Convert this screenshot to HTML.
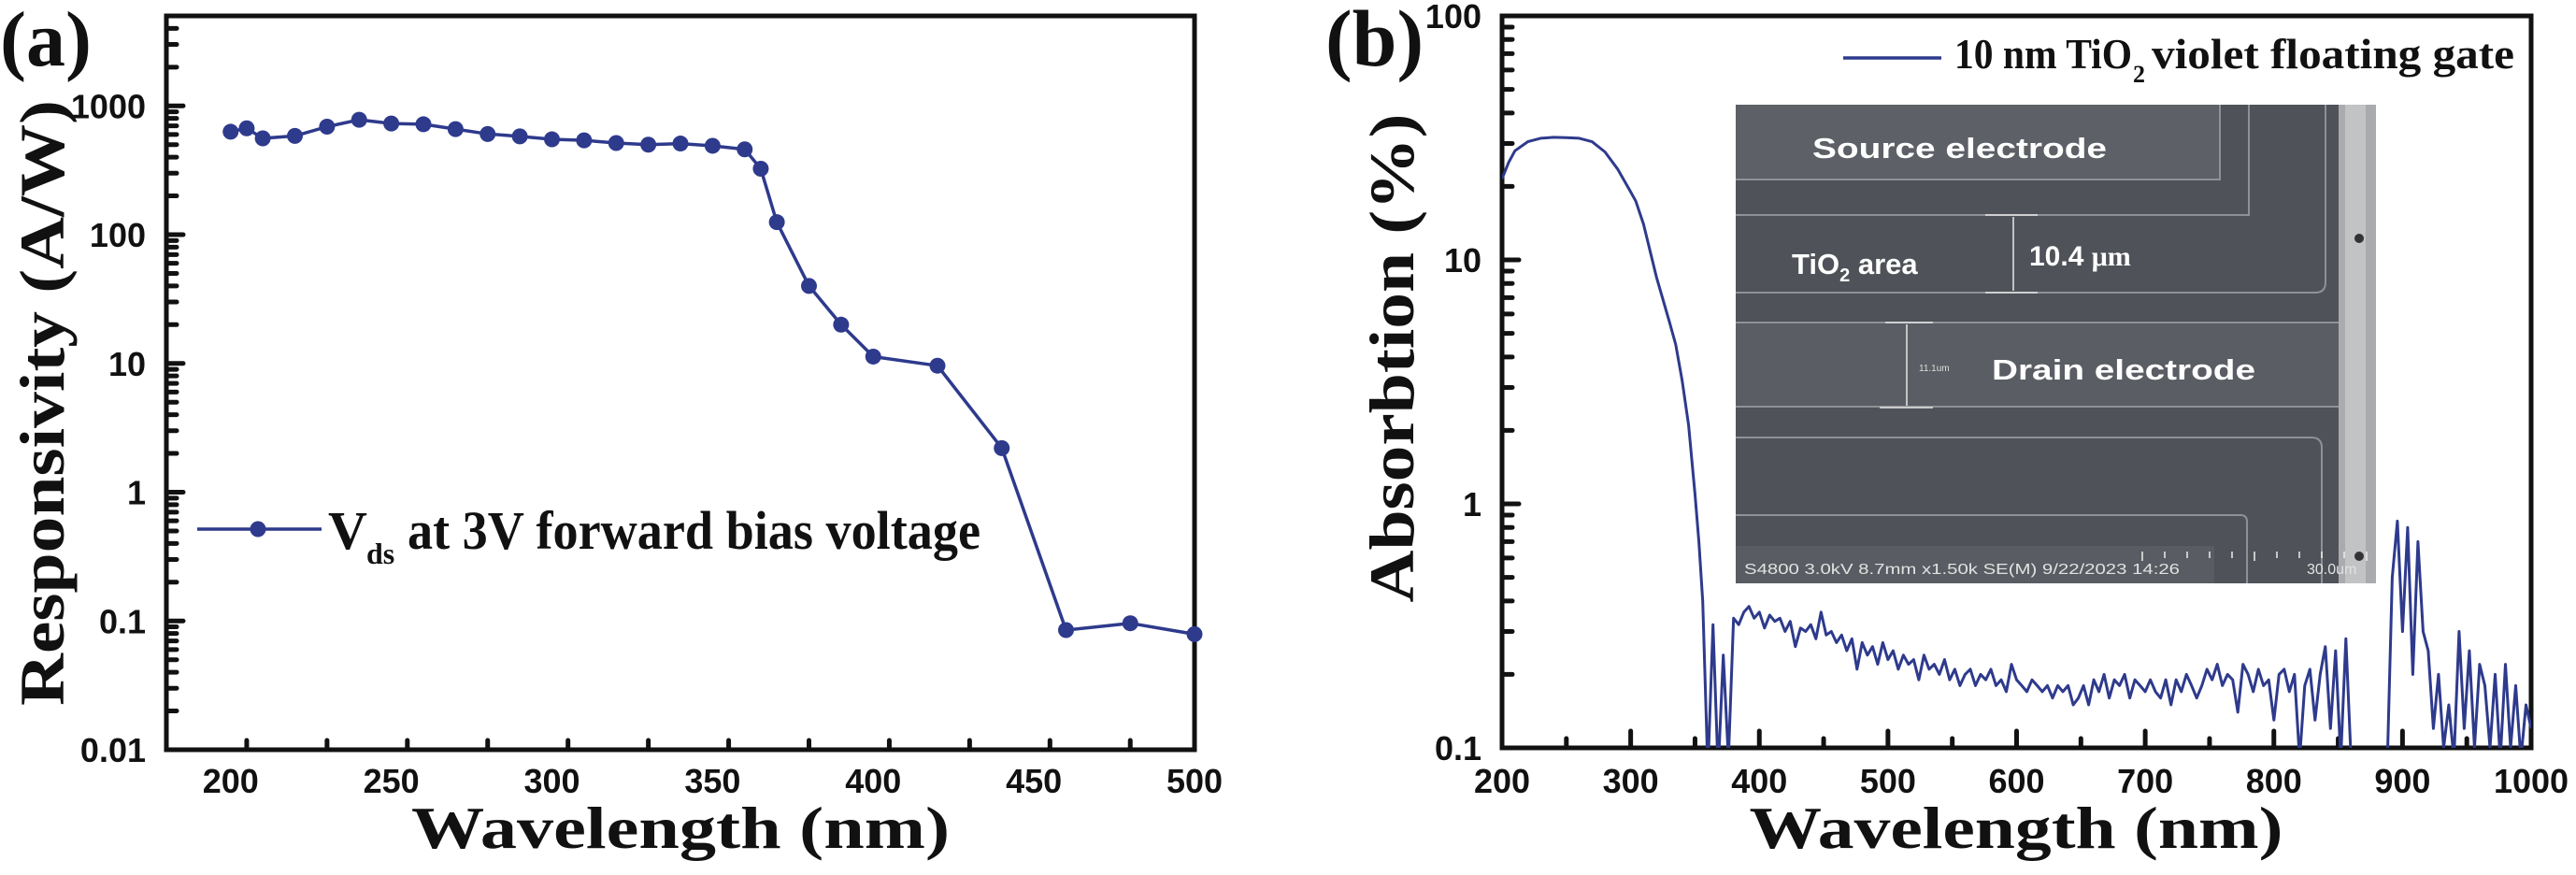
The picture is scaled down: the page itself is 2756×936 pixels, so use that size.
<!DOCTYPE html>
<html><head><meta charset="utf-8"><style>
html,body{margin:0;padding:0;background:#fff;}
svg{display:block;}
.tk{font-family:"Liberation Sans",sans-serif;font-weight:bold;font-size:36px;fill:#111;}
.tt{font-family:"Liberation Serif",serif;font-weight:bold;fill:#111;}
.sem{font-family:"Liberation Sans",sans-serif;font-weight:bold;fill:#fff;}
</style></head><body>
<svg id="fig" width="2756" height="936" viewBox="0 0 2756 936" xmlns="http://www.w3.org/2000/svg">
<g id="pa"></g>
<g id="pb"></g>
</svg>
<script>
// ---- Panel (a) data ----
const respWavelengths = [200,205,210,220,230,240,250,260,270,280,290,300,310,320,330,340,350,360,365,370,380,390,400,420,440,460,480,500];
const respValues = [630,670,560,585,690,780,730,720,660,605,580,550,540,515,500,510,490,460,325,125,40,20,11.3,9.6,2.2,0.085,0.096,0.079];
const respXTicks = [200,250,300,350,400,450,500];
const respYTicks = [0.01,0.1,1,10,100,1000];
const respYTickLabels = ["0.01","0.1","1","10","100","1000"];
// ---- Panel (b) data ----
const absWavelengths = [200,205,210,220,230,240,250,260,270,280,290,300,304,310,320,330,335,340,345,350,353,356,
360,364,368,372,376,380,384,388,392,396,400,404,408,412,416,420,424,428,432,436,440,444,448,452,456,460,464,468,472,476,480,484,488,492,496,
500,504,508,512,516,520,524,528,532,536,540,544,548,552,556,560,564,568,572,576,580,584,588,592,596,
600,604,608,612,616,620,624,628,632,636,640,644,648,652,656,660,664,668,672,676,680,684,688,692,696,
700,704,708,712,716,720,724,728,732,736,740,744,748,752,756,760,764,768,772,776,780,784,788,792,796,
800,804,808,812,816,820,824,828,832,836,840,844,848,852,856,860,864,868,872,876,880,884,888,892,896,
900,904,908,912,916,920,924,928,932,936,940,944,948,952,956,960,964,968,972,976,980,984,988,992,996,1000];
const absValues = [21.5,25,28,30.5,31.5,31.8,31.7,31.5,30.5,27.7,23.5,19,17.4,14,8.5,5.6,4.5,3.2,2.1,1.1,0.7,0.4,
0.08,0.32,0.08,0.24,0.09,0.34,0.32,0.36,0.38,0.34,0.36,0.31,0.35,0.33,0.34,0.30,0.33,0.26,0.31,0.30,0.32,0.28,0.36,0.29,0.30,0.27,0.29,0.25,0.28,0.21,0.27,0.24,0.26,0.22,0.27,
0.23,0.25,0.21,0.24,0.22,0.23,0.19,0.24,0.21,0.22,0.20,0.23,0.19,0.21,0.18,0.20,0.21,0.18,0.20,0.19,0.21,0.18,0.19,0.17,0.22,
0.19,0.18,0.17,0.19,0.18,0.17,0.18,0.16,0.18,0.17,0.18,0.15,0.16,0.18,0.15,0.19,0.17,0.20,0.16,0.19,0.18,0.20,0.16,0.19,0.18,
0.17,0.19,0.17,0.16,0.19,0.15,0.19,0.17,0.20,0.18,0.16,0.18,0.21,0.19,0.22,0.18,0.20,0.19,0.14,0.22,0.20,0.17,0.21,0.18,0.19,
0.13,0.20,0.21,0.17,0.20,0.09,0.18,0.21,0.13,0.20,0.26,0.12,0.25,0.09,0.28,0.09,0.08,0.08,0.08,0.08,0.08,0.08,0.08,0.5,0.85,
0.3,0.8,0.2,0.7,0.3,0.25,0.12,0.2,0.1,0.15,0.09,0.3,0.12,0.25,0.1,0.22,0.18,0.1,0.2,0.09,0.22,0.1,0.18,0.09,0.15,0.12];
const absXTicks = [200,300,400,500,600,700,800,900,1000];
const absYTicks = [0.1,1,10,100];
const absYTickLabels = ["0.1","1","10","100"];

const NS="http://www.w3.org/2000/svg";
const BLUE="#2e3a8c";
function mk(parent,tag,attrs,text){const e=document.createElementNS(NS,tag);for(const k in attrs)e.setAttribute(k,attrs[k]);if(text!==undefined)e.textContent=text;parent.appendChild(e);return e;}

function panel(g,o){
  const sx=v=>o.x0+(v-o.xmin)/(o.xmax-o.xmin)*(o.x1-o.x0);
  const sy=v=>{const t=(Math.log10(v)-Math.log10(o.ymin))/(Math.log10(o.ymax)-Math.log10(o.ymin));return o.y0-t*(o.y0-o.y1);};
  const tg=mk(g,'g',{stroke:'#111','stroke-width':5,'stroke-linecap':'round'});
  
  
  for(let v=o.xmin;v<=o.xmax+1e-9;v+=o.xminor){
    const major=o.xTicks.some(t=>Math.abs(t-v)<1e-6);
    const x=sx(v); if(x<=o.x0+1||x>=o.x1-1)continue;
    mk(tg,'line',{x1:x,y1:o.y0,x2:x,y2:o.y0-(major?18:10)});
  }
  const lmin=Math.floor(Math.log10(o.ymin)),lmax=Math.ceil(Math.log10(o.ymax));
  for(let d=lmin;d<lmax;d++){for(let m=1;m<10;m++){const v=m*Math.pow(10,d);if(v<o.ymin-1e-12||v>o.ymax+1e-9)continue;const y=sy(v);if(y>=o.y0-1||y<=o.y1+1)continue;
    mk(tg,'line',{x1:o.x0,y1:y,x2:o.x0+(m===1?18:11),y2:y});}}
  o.xTicks.forEach(v=>{const t=mk(g,'text',{class:'tk',x:sx(v),y:848,'text-anchor':'middle'},String(v));
    
    });
  o.yTicks.forEach((v,i)=>{const y=sy(v);const t=mk(g,'text',{class:'tk',x:o.x0-22,y:Math.max(y+13,29),'text-anchor':'end'},o.yLabels[i]);
    
    });
  const fr=mk(g,'rect',{x:o.x0,y:o.y1,width:o.x1-o.x0,height:o.y0-o.y1,fill:'none',stroke:'#111','stroke-width':5});
  
  
  return {sx,sy};
}

const pa=document.getElementById('pa');
const A=panel(pa,{x0:178,x1:1278,y0:802,y1:17,xmin:180,xmax:500,ymin:0.01,ymax:5000,xminor:25,xTicks:respXTicks,yTicks:respYTicks,yLabels:respYTickLabels});
{
  let d='';respWavelengths.forEach((w,i)=>{d+=(i?'L':'M')+A.sx(w).toFixed(1)+' '+A.sy(respValues[i]).toFixed(1);});
  const p=mk(pa,'path',{d,fill:'none',stroke:BLUE,'stroke-width':3.5,'stroke-linejoin':'round'});
  
  
  respWavelengths.forEach((w,i)=>{const c=mk(pa,'circle',{cx:A.sx(w),cy:A.sy(respValues[i]),r:8.5,fill:BLUE});
    
    });
}
</script>
<script>
(function(){
const pa=document.getElementById('pa');
pa.insertAdjacentHTML('beforeend',`
<text class="tt" x="0" y="70" font-size="84">(a)</text>
<text class="tt" x="0" y="0" font-size="68" text-anchor="middle" transform="translate(68,431) rotate(-90)" textLength="648" lengthAdjust="spacingAndGlyphs">Responsivity (A/W)</text>
<text class="tt" x="728" y="907" font-size="64" text-anchor="middle" textLength="576" lengthAdjust="spacingAndGlyphs">Wavelength (nm)</text>
<g>
<line x1="211" y1="566" x2="344" y2="566" stroke="#2e3a8c" stroke-width="3.5"/>
<circle cx="276" cy="566" r="8.5" fill="#2e3a8c"/>
<text class="tt" x="351" y="587" font-size="58">V</text>
<text class="tt" x="392" y="603" font-size="32">ds</text>
<text class="tt" x="436" y="587" font-size="58" textLength="613" lengthAdjust="spacingAndGlyphs">at 3V forward bias voltage</text>
</g>`);
})();
</script>
<script>
(function(){
const pb=document.getElementById('pb');
const X=1857,Y=112;
let s=`<g transform="translate(${X},${Y})">
<rect x="0" y="0" width="685" height="512" fill="#4f5258"/>
<rect x="0" y="0" width="518" height="80" fill="#5d6066"/>
<rect x="0" y="233" width="650" height="90" fill="#5a5d63"/>
<rect x="0" y="472" width="512" height="40" fill="#595c62"/>
<g fill="none" stroke="#8e9196" stroke-width="2">
<path d="M0 118 H549 V0"/>
<path d="M0 201 H620 Q631 201 631 190 V0"/>
<path d="M0 233 H650"/><path d="M0 323 H650"/>
<path d="M0 356 H616 Q627 356 627 367 V512"/>
<path d="M0 439 H540 Q547 439 547 446 V512"/>
<path d="M518 0 V80 H0"/>
</g>
<rect x="645" y="0" width="40" height="512" fill="#a9abae"/>
<rect x="652" y="0" width="22" height="512" fill="#c2c3c5"/>
<circle cx="667" cy="143" r="5" fill="#333"/><circle cx="667" cy="483" r="5" fill="#333"/>
<g stroke="#e6e6e6" stroke-width="1.5">
<line x1="267" y1="118" x2="323" y2="118"/><line x1="267" y1="201" x2="323" y2="201"/><line x1="297" y1="120" x2="297" y2="199"/>
<line x1="160" y1="233" x2="211" y2="233"/><line x1="154" y1="324" x2="211" y2="324"/><line x1="183" y1="235" x2="183" y2="322"/>
</g>
<text class="sem" x="82" y="57" font-size="31" textLength="315" lengthAdjust="spacingAndGlyphs">Source electrode</text>
<text class="sem" x="60" y="181" font-size="31">TiO<tspan font-size="20" dy="8">2</tspan><tspan dy="-8"> area</tspan></text>
<text class="sem" x="314" y="172" font-size="30">10.4 <tspan font-family="Liberation Serif, serif">μm</tspan></text>
<text x="196" y="285" font-size="10" fill="#ddd" font-family="Liberation Sans, sans-serif">11.1um</text>
<text class="sem" x="274" y="294" font-size="31" textLength="282" lengthAdjust="spacingAndGlyphs">Drain electrode</text>
<text x="9" y="502" font-size="16" fill="#e2e2e2" font-family="Liberation Sans, sans-serif" textLength="466" lengthAdjust="spacingAndGlyphs">S4800 3.0kV 8.7mm x1.50k SE(M) 9/22/2023 14:26</text>
<text x="611" y="502" font-size="16" fill="#e2e2e2" font-family="Liberation Sans, sans-serif">30.0um</text>
<g stroke="#eee" stroke-width="1.5">`;
for(let i=0;i<11;i++){const x=435+i*24;s+=`<line x1="${x}" y1="478" x2="${x}" y2="${i%5===0?488:485}"/>`;}
s+=`</g></g>`;
pb.insertAdjacentHTML('beforeend',s);
})();
const pbG=document.getElementById('pb');
const B=panel(pbG,{x0:1607,x1:2708,y0:800,y1:17,xmin:200,xmax:1000,ymin:0.1,ymax:100,xminor:50,xTicks:absXTicks,yTicks:absYTicks,yLabels:absYTickLabels});
{
  const clip=mk(pbG,'clipPath',{id:'cb'});mk(clip,'rect',{x:1607,y:17,width:1101,height:783});
  let d='';absWavelengths.forEach((w,i)=>{d+=(i?'L':'M')+B.sx(w).toFixed(1)+' '+B.sy(absValues[i]).toFixed(1);});
  const p=mk(pbG,'path',{d,fill:'none',stroke:BLUE,'stroke-width':3,'stroke-linejoin':'round','clip-path':'url(#cb)'});
  
  
}
pbG.insertAdjacentHTML('beforeend',`
<text class="tt" x="1418" y="70" font-size="86">(b)</text>
<text class="tt" x="0" y="0" font-size="68" text-anchor="middle" transform="translate(1512,383) rotate(-90)" textLength="523" lengthAdjust="spacingAndGlyphs">Absorbtion (%)</text>
<text class="tt" x="2157" y="907" font-size="64" text-anchor="middle" textLength="571" lengthAdjust="spacingAndGlyphs">Wavelength (nm)</text>
<g>
<line x1="1972" y1="62" x2="2077" y2="62" stroke="#2e3a8c" stroke-width="3.5"/>
<text class="tt" x="2091" y="73" font-size="45" textLength="190" lengthAdjust="spacingAndGlyphs">10 nm TiO</text>
<text class="tt" x="2282" y="88" font-size="26">2</text>
<text class="tt" x="2302" y="73" font-size="45" textLength="388" lengthAdjust="spacingAndGlyphs">violet floating gate</text>
</g>`);
</script>
</body></html>
